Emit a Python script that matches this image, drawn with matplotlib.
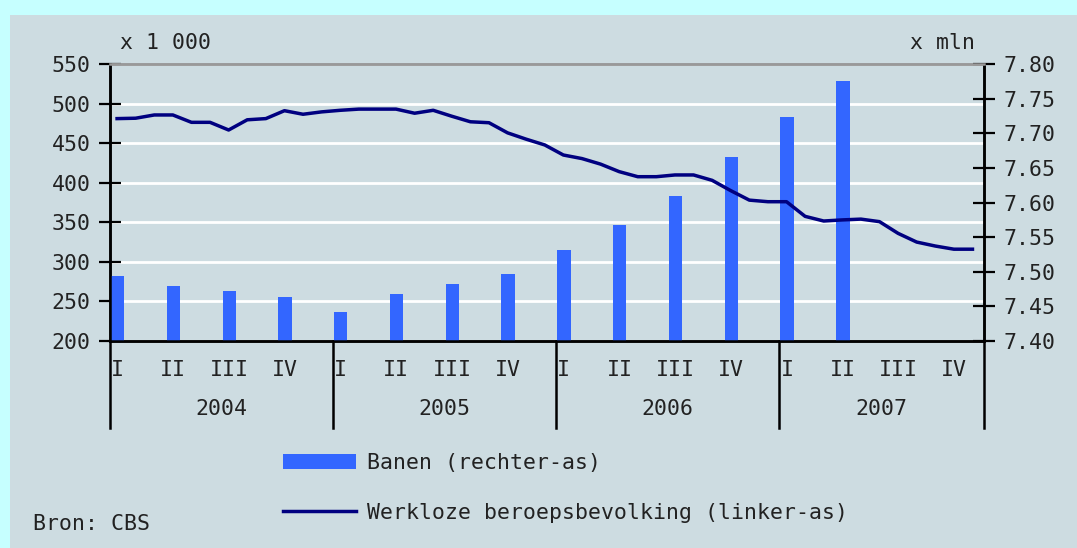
import matplotlib
matplotlib.use("Agg")
import matplotlib.pyplot as plt
import matplotlib.transforms as mtransforms
from matplotlib.patches import Rectangle, Patch
from matplotlib.lines import Line2D
import numpy as np

# ---- data ----
years = ["2004", "2005", "2006", "2007"]
quarters = ["I", "II", "III", "IV"]
# Banen (jobs, x mln) per quarter, right axis
banen = [7.494, 7.480, 7.472, 7.463, 7.442, 7.468, 7.483, 7.497,
         7.532, 7.567, 7.610, 7.666, 7.723, 7.775]
# Werkloze beroepsbevolking (x 1000) monthly, Jan 2004 - Nov 2007, left axis
werkloos = [481, 481.5, 485.6, 485.6, 476.3, 476.3, 466.6, 479.5, 481, 491,
            486.5, 489.5, 491.5, 493, 493, 493, 487.8, 491.5, 484, 477,
            475.8, 463, 455, 447.7, 435, 430.5, 423.5, 414, 407.6, 407.6,
            409.8, 409.8, 403, 390, 378, 376, 376, 357.5, 351.6, 353,
            354, 350.8, 336, 325, 320, 316, 316]
left_ticks = [200, 250, 300, 350, 400, 450, 500, 550]
right_ticks = [7.40, 7.45, 7.50, 7.55, 7.60, 7.65, 7.70, 7.75, 7.80]

W, H = 1077, 548
fig = plt.figure(figsize=(W / 100, H / 100), dpi=100)
fig.patch.set_facecolor("#c6ffff")
panel_col = "#cddce1"
fig.patches.append(Rectangle((10 / W, 0), 1 - 10 / W, 1 - 15 / H,
                             transform=fig.transFigure, facecolor=panel_col,
                             edgecolor="none", zorder=-10))

FS = 15.5
TXT = "#222222"
plt.rcParams["font.family"] = ["DejaVu Sans Mono", "DejaVu Sans"]

x0, x1 = 110, 984
y0, y1 = 64, 341
ax = fig.add_axes([x0 / W, 1 - y1 / H, (x1 - x0) / W, (y1 - y0) / H])
ax.set_facecolor(panel_col)
n_months = len(werkloos)
ax.set_xlim(0, n_months)

# host: left scale, grid
ax.set_ylim(left_ticks[0], left_ticks[-1])
ax.set_yticks(left_ticks)
ax.set_yticklabels([str(t) for t in left_ticks], fontsize=FS)
ax.grid(axis="y", color="white", linewidth=2)
ax.set_axisbelow(True)

# bars on right scale
axb = ax.twinx()
axb.set_ylim(right_ticks[0], right_ticks[-1])
bar_x = np.arange(len(banen)) * 3
axb.bar(bar_x + 0.05, np.array(banen) - right_ticks[0], width=0.72,
        bottom=right_ticks[0], align="edge", color="#3366ff",
        edgecolor="none", zorder=2)
axb.set_yticks(right_ticks)
axb.set_yticklabels([f"{t:.2f}" for t in right_ticks], fontsize=FS)

# line on left scale (on top)
axl = ax.twinx()
axl.set_ylim(left_ticks[0], left_ticks[-1])
axl.plot(np.arange(n_months) + 0.38, werkloos, color="#000080",
         linewidth=2.5, solid_joinstyle="round", zorder=3)
axl.yaxis.set_visible(False)
for s in axl.spines.values():
    s.set_visible(False)

for a in (ax, axb):
    a.tick_params(axis="y", direction="inout", length=16, width=1.6,
                  color="black", labelcolor=TXT, pad=6)
    for s in ("left", "right", "bottom"):
        a.spines[s].set_color("black")
        a.spines[s].set_linewidth(1.8)
    a.spines["top"].set_color("#999999")
    a.spines["top"].set_linewidth(1.8)

# quarter labels
q_pos = np.arange(len(years) * 4) * 3 + 0.4
ax.set_xticks(q_pos)
ax.set_xticklabels(quarters * len(years), fontsize=FS, color=TXT)
ax.tick_params(axis="x", length=0, pad=14)
# year labels (minor ticks)
sep = [0, 12, 24, 36, n_months]
ax.set_xticks([(sep[i] + sep[i + 1]) / 2 for i in range(len(years))], minor=True)
ax.set_xticklabels(years, minor=True, fontsize=FS, color=TXT)
ax.tick_params(axis="x", which="minor", length=0, pad=42)

trans = mtransforms.blended_transform_factory(ax.transData, ax.transAxes)
for s in sep:
    ax.plot([s, s], [0, -87 / (y1 - y0)], transform=trans, color="black",
            linewidth=1.8, clip_on=False, zorder=5)

# unit labels
fig.text(120 / W, 1 - 43 / H, "x 1 000", fontsize=FS, color=TXT,
         ha="left", va="center")
fig.text(975 / W, 1 - 43 / H, "x mln", fontsize=FS, color=TXT,
         ha="right", va="center")

# legend
handles = [Patch(facecolor="#3366ff", edgecolor="none"),
           Line2D([], [], color="#000080", linewidth=2.5)]
labels = ["Banen (rechter-as)", "Werkloze beroepsbevolking (linker-as)"]
fig.legend(handles, labels, loc="upper left",
           bbox_to_anchor=(283 / W, 1 - 453 / H), frameon=False,
           fontsize=FS, handlelength=3.4, handleheight=0.75,
           handletextpad=0.5, labelspacing=1.4, borderpad=0,
           borderaxespad=0, labelcolor=TXT)

fig.text(33 / W, 1 - 524 / H, "Bron: CBS", fontsize=FS, color=TXT,
         ha="left", va="center")

fig.savefig("out.png", dpi=100, facecolor=fig.get_facecolor())
